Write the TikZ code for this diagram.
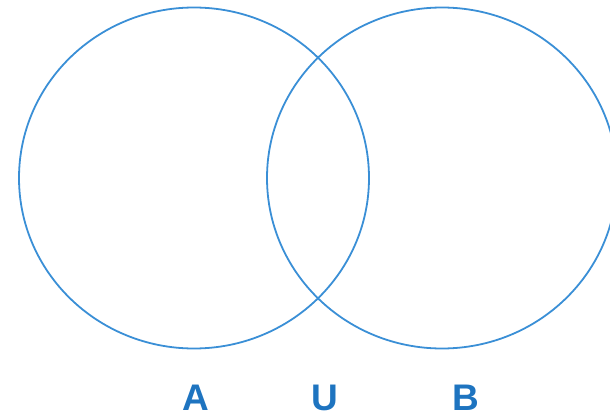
\documentclass[tikz,border=0pt]{standalone}
\usepackage{fontspec}
\setmainfont{Liberation Sans}
\usetikzlibrary{shapes.geometric}

\definecolor{setblue}{HTML}{3A8FD6}
\definecolor{labelblue}{HTML}{1E74C0}

\begin{document}
\begin{tikzpicture}[
            x=1pt, y=-1pt,
            setcircle/.style={
                    draw=setblue,
                    ellipse,
                    line width=1.8pt,
                    minimum width=350pt,
                    minimum height=341pt,
                    inner sep=0pt
                },
            setlabel/.style={
                    font=\fontsize{37}{40}\selectfont\bfseries,
                    text=labelblue,
                    inner sep=0pt
                }
        ]

        \clip (0,0) rectangle (610,417);

        \node[setcircle] (setA) at (194,178) {};
        \node[setcircle] (setB) at (442,178) {};

        \node[setlabel] (labA) at (196,398) {A};
        \node[setlabel] (labU) at (325,398) {U};
        \node[setlabel] (labB) at (466,398) {B};

    \end{tikzpicture}
\end{document}
